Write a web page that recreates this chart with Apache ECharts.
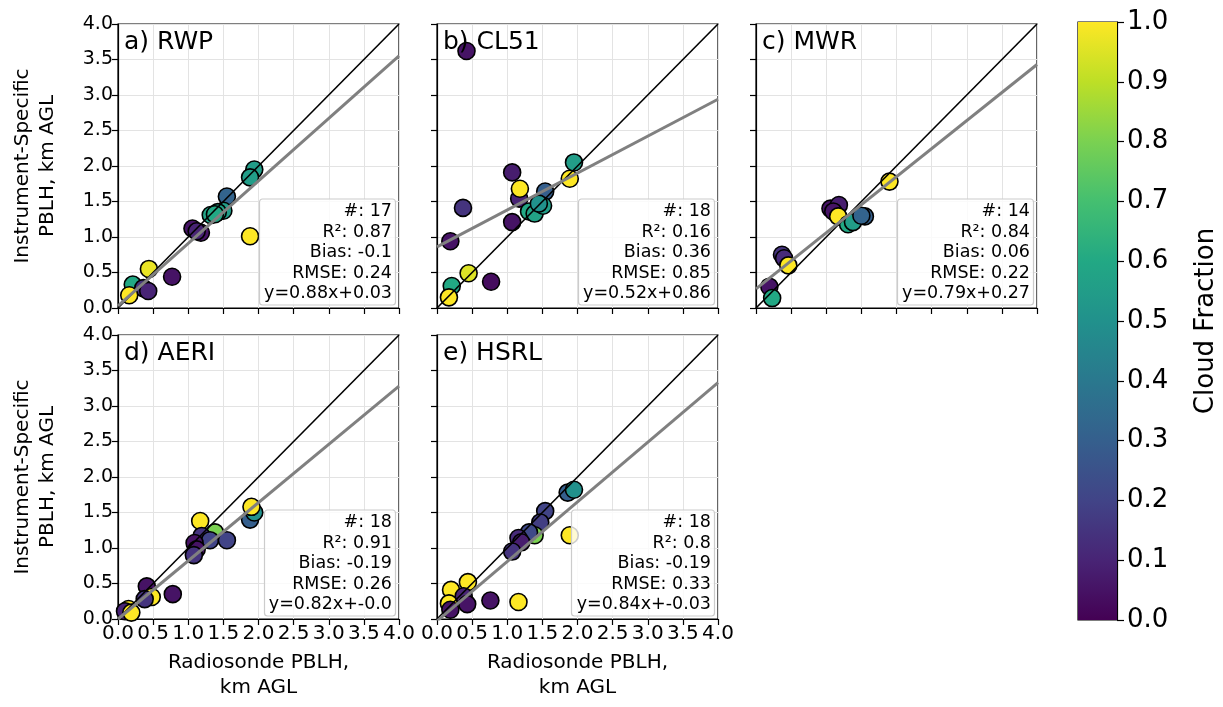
<!DOCTYPE html>
<html>
<head>
<meta charset="utf-8">
<script src="https://cdn.jsdelivr.net/npm/echarts@6/dist/echarts.min.js"></script>
<style>
  html, body { margin: 0; padding: 0; background: #fff; }
  #main { width: 1223px; height: 707px; }
</style>
</head>
<body>
<div id="main"></div>
<script>
// radiosonde x, instrument y, cloud fraction
var rwpX  = [1.94, 1.88, 1.55, 1.50, 1.42, 1.32, 1.38, 1.06, 1.18, 1.12, 1.88, 0.44, 0.77, 0.21, 0.36, 0.43, 0.16];
var rwpY  = [1.95, 1.84, 1.57, 1.37, 1.35, 1.31, 1.32, 1.12, 1.06, 1.08, 1.01, 0.55, 0.44, 0.33, 0.28, 0.24, 0.18];
var rwpCF = [0.55, 0.55, 0.32, 0.55, 0.58, 0.58, 0.60, 0.05, 0.05, 0.10, 1.00, 0.97, 0.05, 0.60, 0.15, 0.10, 1.00];

var clX  = [0.42, 1.95, 1.89, 1.07, 1.17, 1.18, 1.54, 0.37, 1.31, 1.39, 1.51, 1.45, 1.07, 0.19, 0.45, 0.77, 0.21, 0.17];
var clY  = [3.62, 2.05, 1.82, 1.91, 1.54, 1.68, 1.64, 1.41, 1.36, 1.33, 1.44, 1.47, 1.21, 0.94, 0.49, 0.37, 0.31, 0.15];
var clCF = [0.05, 0.55, 1.00, 0.08, 0.10, 1.00, 0.30, 0.15, 0.60, 0.58, 0.55, 0.50, 0.05, 0.05, 0.95, 0.03, 0.60, 1.00];

var mwrX  = [1.90, 1.06, 1.18, 1.10, 1.17, 1.31, 1.38, 1.55, 1.50, 0.37, 0.40, 0.46, 0.19, 0.23];
var mwrY  = [1.78, 1.40, 1.45, 1.36, 1.29, 1.18, 1.21, 1.29, 1.30, 0.75, 0.70, 0.60, 0.30, 0.14];
var mwrCF = [1.00, 0.05, 0.08, 0.05, 1.00, 0.60, 0.55, 0.30, 0.32, 0.15, 0.12, 1.00, 0.05, 0.60];

var aeX  = [1.88, 1.94, 1.90, 1.17, 1.38, 1.19, 1.31, 1.55, 1.09, 1.12, 1.08, 0.41, 0.78, 0.48, 0.38, 0.15, 0.10, 0.19];
var aeY  = [1.40, 1.50, 1.58, 1.38, 1.22, 1.17, 1.11, 1.11, 1.07, 0.98, 0.90, 0.46, 0.35, 0.31, 0.28, 0.14, 0.11, 0.09];
var aeCF = [0.30, 0.50, 1.00, 1.00, 0.80, 0.15, 0.20, 0.20, 0.05, 0.05, 0.15, 0.05, 0.05, 1.00, 0.15, 1.00, 0.10, 1.00];

var hsX  = [1.86, 1.95, 1.54, 1.47, 1.39, 1.31, 1.16, 1.20, 1.07, 1.89, 0.76, 1.16, 0.44, 0.20, 0.38, 0.43, 0.17, 0.19];
var hsY  = [1.78, 1.82, 1.52, 1.36, 1.18, 1.22, 1.14, 1.08, 0.95, 1.18, 0.26, 0.24, 0.52, 0.41, 0.32, 0.21, 0.22, 0.13];
var hsCF = [0.30, 0.50, 0.20, 0.18, 0.80, 0.22, 0.12, 0.08, 0.15, 1.00, 0.05, 1.00, 1.00, 1.00, 0.10, 0.05, 1.00, 0.05];

var panelNames = ["a) RWP", "b) CL51", "c) MWR", "d) AERI", "e) HSRL"];
var statN = [17, 18, 14, 18, 18];
var statR2 = ["0.87", "0.16", "0.84", "0.91", "0.8"];
var statBias = ["-0.1", "0.36", "0.06", "-0.19", "-0.19"];
var statRMSE = ["0.24", "0.85", "0.22", "0.26", "0.33"];
var fitSlope = ["0.88", "0.52", "0.79", "0.82", "0.84"];
var fitIntercept = ["0.03", "0.86", "0.27", "-0.0", "-0.03"];

var cbRange = [0, 1];
var viridis = ["#440154", "#482475", "#414487", "#355f8d", "#2a788e", "#21918c",
               "#22a884", "#44bf70", "#7ad151", "#bddf26", "#fde725"];

var panelX = [rwpX, clX, mwrX, aeX, hsX];
var panelY = [rwpY, clY, mwrY, aeY, hsY];
var panelCF = [rwpCF, clCF, mwrCF, aeCF, hsCF];

// layout
var W = 1223, H = 707;
var colLeft = [118, 437, 756];
var rowTop = [24, 335];
var pw = 281, ph = 284;
var panelPos = [[0, 0], [0, 1], [0, 2], [1, 0], [1, 1]]; // row, col
var font = "DejaVu Sans";

function fmt1(v) { return v.toFixed(1); }

function buildOption() {
    var grids = [], xAxes = [], yAxes = [], series = [], titles = [];
    var scatterIdx = [];

    for (var i = 0; i < 5; i++) {
        var r = panelPos[i][0], c = panelPos[i][1];
        var gx = colLeft[c], gy = rowTop[r];
        grids.push({left: gx, top: gy, width: pw, height: ph, show: true, borderColor: "#000", borderWidth: 1.2});
        var showXLabel = (r === 1);
        var showYLabel = (c === 0);
        xAxes.push({
            type: "value", gridIndex: i, min: 0, max: 4, interval: 0.5,
            axisLine: {show: true, onZero: false, lineStyle: {color: "#000", width: 1.2}},
            axisTick: {show: true, inside: false, length: 6, lineStyle: {color: "#000", width: 1.2}},
            axisLabel: {show: showXLabel, fontSize: 20, fontFamily: font, color: "#000", margin: 5, formatter: fmt1},
            splitLine: {show: true, lineStyle: {color: "#e3e3e3", width: 1}},
            name: showXLabel ? "Radiosonde PBLH,\nkm AGL" : "",
            nameLocation: "middle", nameGap: 31,
            nameTextStyle: {fontSize: 20, fontFamily: font, color: "#000", lineHeight: 25}
        });
        yAxes.push({
            type: "value", gridIndex: i, min: 0, max: 4, interval: 0.5,
            axisLine: {show: true, onZero: false, lineStyle: {color: "#000", width: 1.2}},
            axisTick: {show: true, inside: false, length: 6, lineStyle: {color: "#000", width: 1.2}},
            axisLabel: {show: showYLabel, fontSize: 19, fontFamily: font, color: "#000", margin: 5, formatter: fmt1},
            splitLine: {show: true, lineStyle: {color: "#e3e3e3", width: 1}},
            name: showYLabel ? "Instrument-Specific\nPBLH, km AGL" : "",
            nameLocation: "middle", nameGap: 58, nameRotate: 90,
            nameTextStyle: {fontSize: 20, fontFamily: font, color: "#000", lineHeight: 25}
        });

        var pts = [];
        for (var k = 0; k < panelX[i].length; k++) {
            pts.push([panelX[i][k], panelY[i][k], panelCF[i][k]]);
        }
        scatterIdx.push(series.length);
        series.push({
            type: "scatter", xAxisIndex: i, yAxisIndex: i, data: pts,
            symbolSize: 17, z: 2,
            itemStyle: {borderColor: "#000", borderWidth: 1.6, opacity: 1}
        });
        // 1:1 line
        series.push({
            type: "line", xAxisIndex: i, yAxisIndex: i, data: [[0, 0], [4, 4]],
            showSymbol: false, silent: true, z: 3,
            lineStyle: {color: "#000", width: 1.6}
        });
        // fit line
        var slope = parseFloat(fitSlope[i]), icpt = parseFloat(fitIntercept[i]) + 0;
        series.push({
            type: "line", xAxisIndex: i, yAxisIndex: i, data: [[0, icpt], [4, slope * 4 + icpt]],
            showSymbol: false, silent: true, z: 3,
            lineStyle: {color: "#808080", width: 3}
        });

        titles.push({
            text: panelNames[i], left: gx + 6, top: gy + 6, padding: 0,
            textStyle: {fontSize: 25, fontWeight: "normal", fontFamily: font, color: "#000"}
        });
        // stats box, right-aligned text anchored at the box's right side
        titles.push({
            text: "#: " + statN[i] + "\nR\u00b2: " + statR2[i] + "\nBias: " + statBias[i] +
                  "\nRMSE: " + statRMSE[i] + "\ny=" + fitSlope[i] + "x+" + fitIntercept[i],
            left: gx + pw - 12, bottom: H - (gy + ph) + 3,
            textAlign: "right",
            padding: [3, 4, 1, 5],
            backgroundColor: "rgba(255,255,255,0.8)", borderColor: "#cccccc", borderWidth: 1.2, borderRadius: 3,
            textStyle: {fontSize: 17.5, fontWeight: "normal", fontFamily: font, color: "#000", lineHeight: 20.5}
        });
    }

    // colorbar: one bar filling the cloud-fraction range
    var cbStops = [];
    for (var j = 0; j < viridis.length; j++) {
        cbStops.push({offset: j / (viridis.length - 1), color: viridis[j]});
    }
    grids.push({left: 1078, top: 22, width: 39, height: 598, show: true, borderColor: "#000", borderWidth: 1.2});
    xAxes.push({type: "category", gridIndex: 5, show: false, data: ["cf"]});
    yAxes.push({
        type: "value", gridIndex: 5, position: "right", min: cbRange[0], max: cbRange[1], interval: 0.1,
        axisLine: {show: true, lineStyle: {color: "#000", width: 1.2}},
        axisTick: {show: true, inside: false, length: 7, lineStyle: {color: "#000", width: 1.2}},
        axisLabel: {fontSize: 26, fontFamily: font, color: "#000", margin: 10, formatter: fmt1},
        splitLine: {show: false},
        name: "Cloud Fraction", nameLocation: "middle", nameGap: 76, nameRotate: 90,
        nameTextStyle: {fontSize: 26, fontFamily: font, color: "#000"}
    });
    series.push({
        type: "bar", xAxisIndex: 5, yAxisIndex: 5, data: [cbRange[1]], barWidth: "100%",
        silent: true, z: 1,
        itemStyle: {color: new echarts.graphic.LinearGradient(0, 1, 0, 0, cbStops)}
    });

    return {
        animation: false,
        backgroundColor: "#fff",
        title: titles,
        grid: grids,
        xAxis: xAxes,
        yAxis: yAxes,
        visualMap: {
            type: "continuous", show: false, min: 0, max: 1, dimension: 2,
            seriesIndex: scatterIdx, inRange: {color: viridis}
        },
        series: series
    };
}

var myChart = echarts.init(document.getElementById("main"));
myChart.setOption(buildOption());
</script>
</body>
</html>
